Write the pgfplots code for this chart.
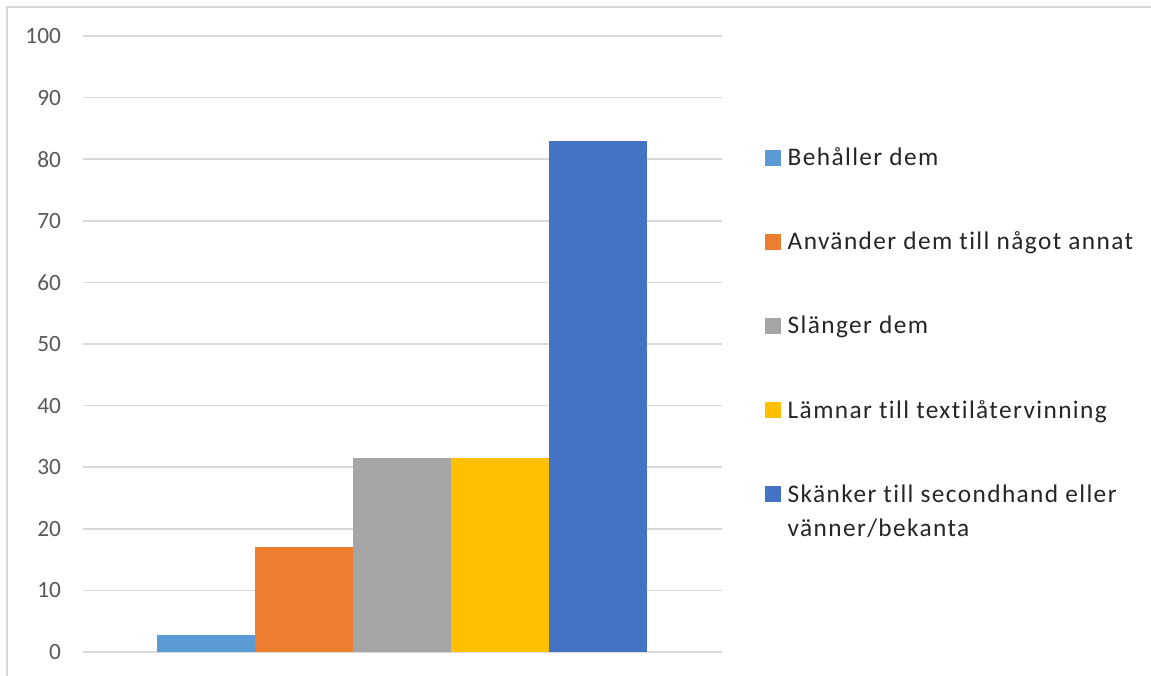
\documentclass[border=0pt]{standalone}
\usepackage{fontspec}
\setmainfont{Carlito}
\newfontfamily\legfont[LetterSpace=5.5,Ligatures=NoCommon]{Carlito}
\usepackage{pgfplots}
\pgfplotsset{compat=1.18}
\definecolor{cA}{HTML}{5B9BD5}
\definecolor{cB}{HTML}{ED7D31}
\definecolor{cC}{HTML}{A5A5A5}
\definecolor{cD}{HTML}{FFC000}
\definecolor{cE}{HTML}{4472C4}
\definecolor{gridc}{HTML}{D9D9D9}
\definecolor{txt}{HTML}{595959}
\begin{document}
\begin{tikzpicture}
\useasboundingbox (0,0) rectangle (863.25pt,506.25pt);
\draw[gridc, line width=1.2pt] (5.25pt,-5pt) -- (5.25pt,501pt) -- (900pt,501pt);
\begin{axis}[
  at={(62.25pt,17.25pt)}, anchor=south west,
  scale only axis, width=479.25pt, height=462pt,
  xmin=-1.255, xmax=5.265, ymin=0, ymax=100,
  ytick={0,10,...,100}, xtick=\empty,
  axis line style={draw=none}, tick style={draw=none},
  ymajorgrids, grid style={gridc, line width=1.2pt},
  clip=false,
  /pgf/number format/assume math mode=true,
  yticklabel style={font=\fontsize{17.5}{20}\selectfont, text=txt, anchor=east, xshift=-13pt},
  legend cell align=left,
  legend style={at={(rel axis cs:1.0673,0.823)}, anchor=north west, draw=none,
    inner sep=0pt, outer sep=0pt, row sep=44.25pt,
    font=\legfont\fontsize{19}{26}\selectfont, text=black!85,
    cells={align=left},
    /tikz/every odd column/.style={column sep=3pt}},
  legend image code/.code={\path[#1,draw=none] (0pt,-6pt) rectangle (12pt,6pt);},
]
\addplot[ybar, bar width=73.5pt, bar shift=0pt, fill=cA, draw=none] coordinates {(0,2.8)};
\addplot[ybar, bar width=73.5pt, bar shift=0pt, fill=cB, draw=none] coordinates {(1,17.1)};
\addplot[ybar, bar width=73.5pt, bar shift=0pt, fill=cC, draw=none] coordinates {(2,31.5)};
\addplot[ybar, bar width=73.5pt, bar shift=0pt, fill=cD, draw=none] coordinates {(3,31.5)};
\addplot[ybar, bar width=73.5pt, bar shift=0pt, fill=cE, draw=none,
  legend image post style={yshift=13pt}] coordinates {(4,82.9)};
\legend{Behåller dem, Använder dem till något annat, Slänger dem, Lämnar till textilåtervinning, {Skänker till secondhand eller\\vänner/bekanta}}
\end{axis}
\end{tikzpicture}
\end{document}
